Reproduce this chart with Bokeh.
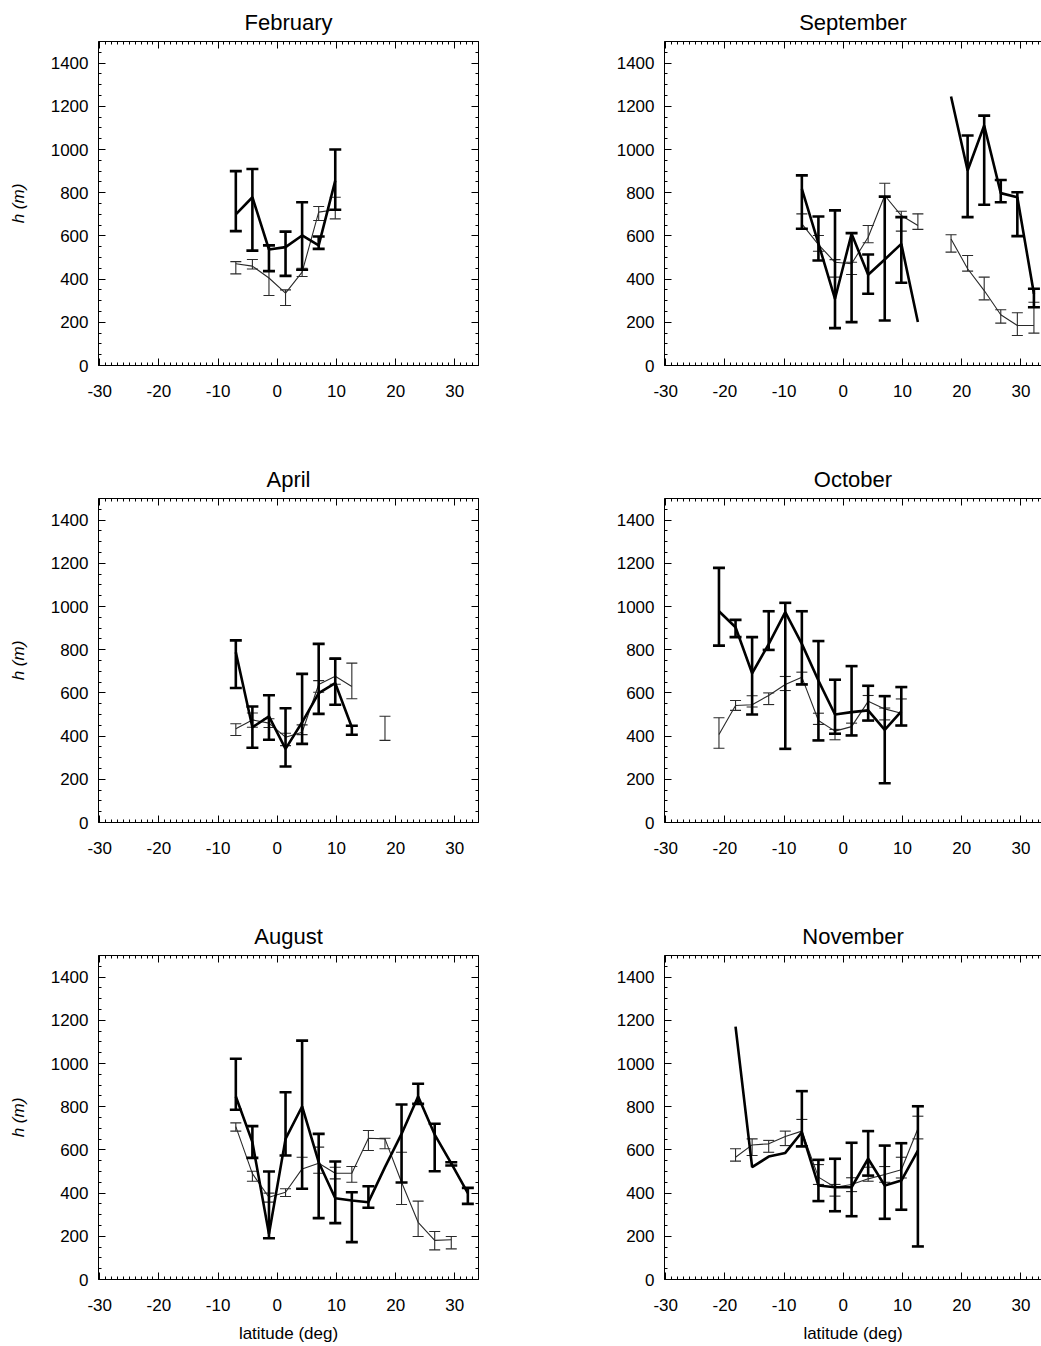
import math
from bokeh.plotting import figure
from bokeh.layouts import column, row
from bokeh.models import Range1d, LinearAxis, FixedTicker
from bokeh.embed import file_html
from bokeh.resources import INLINE

nan = float("nan")

# ---------------- data (latitude in deg, h in m) ----------------
# February
feb_lat_k = [-7.0, -4.2, -1.4, 1.4, 4.2, 7.0, 9.8]
feb_h_k = [700, 779, 537, 548, 602, 556, 856]
feb_lo_k = [622, 532, 437, 415, 443, 540, 721]
feb_hi_k = [900, 910, 556, 620, 756, 597, 1000]
feb_lat_t = [-7.0, -4.2, -1.4, 1.4, 4.2, 7.0, 9.8]
feb_h_t = [471, 460, 405, 335, 432, 710, 721]
feb_lo_t = [424, 447, 324, 278, 412, 671, 679]
feb_hi_t = [481, 491, 440, 350, 450, 736, 779]

# September
sep_lat_k = [-7.0, -4.2, -1.4, 1.4, 4.2, 7.0, 9.8, 12.6, 15.4, 18.2, 21.0, 23.8, 26.6, 29.4, 32.2]
sep_h_k = [818, 565, 309, 610, 420, 491, 563, 201, nan, 1245, 903, 1111, 798, 779, 332]
sep_lo_k = [633, 486, 173, 201, 332, 208, 383, nan, nan, nan, 687, 744, 756, 599, 270]
sep_hi_k = [880, 690, 718, 613, 514, 782, 687, nan, nan, nan, 1065, 1157, 859, 802, 355]
sep_lat_t = [-7.0, -4.2, -1.4, 1.4, 4.2, 7.0, 9.8, 12.6, 15.4, 18.2, 21.0, 23.8, 26.6, 29.4, 32.2]
sep_h_t = [656, 560, 478, 471, 594, 787, 694, 648, nan, 586, 448, 347, 235, 185, 185]
sep_lo_t = [633, 529, 409, 421, 568, 779, 622, 630, nan, 525, 437, 304, 196, 139, 150]
sep_hi_t = [702, 602, 490, 478, 648, 844, 714, 702, nan, 605, 509, 409, 258, 244, 293]

# April
apr_lat_k = [-7.0, -4.2, -1.4, 1.4, 4.2, 7.0, 9.8, 12.6]
apr_h_k = [788, 441, 491, 341, 464, 599, 645, 441]
apr_lo_k = [623, 346, 383, 259, 364, 503, 545, 406]
apr_hi_k = [843, 537, 589, 529, 688, 827, 758, 448]
apr_lat_t = [-7.0, -4.2, -1.4, 1.4, 4.2, 7.0, 9.8, 12.6, 15.4, 18.2]
apr_h_t = [434, 475, 460, 395, 418, 639, 677, 630, nan, 436]
apr_lo_t = [403, 441, 440, 356, 407, 603, 640, 573, nan, 380]
apr_hi_t = [457, 507, 480, 413, 452, 657, 762, 738, nan, 492]

# October
oct_lat_k = [-21.0, -18.2, -15.4, -12.6, -9.8, -7.0, -4.2, -1.4, 1.4, 4.2, 7.0, 9.8]
oct_h_k = [978, 904, 691, 826, 974, 827, 657, 500, 511, 519, 429, 515]
oct_lo_k = [819, 858, 500, 799, 341, 639, 380, 411, 403, 472, 182, 449]
oct_hi_k = [1179, 938, 858, 978, 1017, 978, 840, 661, 724, 633, 585, 627]
oct_lat_t = [-21.0, -18.2, -15.4, -12.6, -9.8, -7.0, -4.2, -1.4, 1.4, 4.2, 7.0, 9.8]
oct_h_t = [407, 542, 545, 588, 639, 673, 472, 423, 444, 561, 526, 506]
oct_lo_t = [344, 519, 535, 546, 611, 642, 454, 383, 403, 472, 475, 449]
oct_hi_t = [485, 565, 587, 600, 676, 696, 506, 431, 460, 588, 530, 572]

# August
aug_lat_k = [-7.0, -4.2, -1.4, 1.4, 4.2, 7.0, 9.8, 12.6, 15.4, 18.2, 21.0, 23.8, 26.6, 29.4, 32.2]
aug_h_k = [847, 636, 211, 651, 801, 543, 376, 366, 358, 520, 674, 847, 671, 538, 400]
aug_lo_k = [786, 563, 191, 574, 420, 284, 261, 173, 332, nan, 449, 813, 501, 528, 350]
aug_hi_k = [1022, 710, 500, 867, 1106, 674, 546, 404, 432, nan, 810, 906, 721, 543, 424]
aug_lat_t = [-7.0, -4.2, -1.4, 1.4, 4.2, 7.0, 9.8, 12.6, 15.4, 18.2, 21.0, 23.8, 26.6, 29.4]
aug_h_t = [708, 490, 381, 404, 512, 538, 492, 492, 654, 651, 450, 265, 181, 184]
aug_lo_t = [687, 455, 358, 384, 420, 492, 466, 450, 597, 605, 347, 199, 137, 142]
aug_hi_t = [725, 501, 400, 420, 566, 613, 520, 523, 690, 654, 589, 363, 222, 199]

# November
nov_lat_k = [-18.2, -15.4, -12.6, -9.8, -7.0, -4.2, -1.4, 1.4, 4.2, 7.0, 9.8, 12.6]
nov_h_k = [1171, 520, 569, 586, 682, 435, 427, 427, 559, 435, 458, 597]
nov_lo_k = [nan, nan, nan, nan, 616, 363, 316, 293, 481, 281, 323, 153]
nov_hi_k = [nan, nan, nan, nan, 872, 554, 559, 633, 687, 620, 631, 802]
nov_lat_t = [-18.2, -15.4, -12.6, -9.8, -7.0, -4.2, -1.4, 1.4, 4.2, 7.0, 9.8, 12.6]
nov_h_t = [566, 623, 628, 662, 687, 474, 427, 440, 466, 486, 508, 698]
nov_lo_t = [548, 574, 589, 620, 620, 440, 386, 407, 455, 450, 470, 651]
nov_hi_t = [605, 651, 644, 687, 741, 532, 440, 471, 520, 523, 566, 756]

x_major = [-30, -20, -10, 0, 10, 20, 30]
x_labels = {-30: "-30", -20: "-20", -10: "-10", 0: "0", 10: "10", 20: "20", 30: "30"}
x_minor = list(range(-30, 35))
y_major = [0, 200, 400, 600, 800, 1000, 1200, 1400]
y_minor = list(range(0, 1501, 50))

FONT = "Liberation Sans"
THIN_COLOR = "#2a2a2a"


def style_axis(ax, show_labels, standoff=0):
    ax.axis_line_color = "black"
    ax.axis_line_width = 1
    ax.major_tick_in = 7
    ax.major_tick_out = 0
    ax.minor_tick_in = 3
    ax.minor_tick_out = 0
    ax.major_tick_line_color = "black"
    ax.minor_tick_line_color = "black"
    if show_labels:
        ax.major_label_text_font = FONT
        ax.major_label_text_font_size = "17px"
        ax.major_label_text_color = "black"
        ax.major_label_standoff = standoff
    else:
        ax.major_label_text_color = None
        ax.major_label_text_alpha = 0
        ax.major_label_text_font_size = "0px"
        ax.major_label_standoff = 0


def add_series(p, lat, h, lo, hi, width, cap, color):
    p.line(lat, h, line_width=width, line_color=color)
    bx = [x for x, a in zip(lat, lo) if not math.isnan(a)]
    blo = [a for a in lo if not math.isnan(a)]
    bhi = [b for b in hi if not math.isnan(b)]
    if bx:
        p.segment(x0=bx, y0=blo, x1=bx, y1=bhi, line_width=width, line_color=color)
        p.scatter(bx, blo, marker="dash", size=cap, line_width=width, line_color=color)
        p.scatter(bx, bhi, marker="dash", size=cap, line_width=width, line_color=color)


def make_panel(title, k, t, left_col, bottom_row):
    if left_col:
        w, bl, br, xend = 576, 98, 98, 34.0
    else:
        w, bl, br, xend = 465, 88, 0, 33.48
    h = 432 if bottom_row else 457
    bb = 67 if bottom_row else 92
    p = figure(width=w, height=h, output_backend="svg", toolbar_location=None,
               x_range=Range1d(-30.2, xend), y_range=Range1d(0, 1500),
               min_border_left=bl, min_border_right=br,
               min_border_top=41, min_border_bottom=bb,
               title=title)
    p.title.text_font = FONT
    p.title.text_font_size = "22px"
    p.title.text_font_style = "normal"
    p.title.text_color = "black"
    p.title.align = "center"
    p.title.standoff = 14
    p.outline_line_color = None
    p.grid.visible = False
    p.background_fill_color = "white"
    p.border_fill_color = "white"

    p.xaxis.ticker = FixedTicker(ticks=x_major, minor_ticks=x_minor)
    p.yaxis.ticker = FixedTicker(ticks=y_major, minor_ticks=y_minor)
    p.xaxis.major_label_overrides = x_labels
    style_axis(p.xaxis[0], True, 19)
    style_axis(p.yaxis[0], True, 10)

    if left_col:
        p.yaxis.axis_label = "h (m)"
        p.yaxis.axis_label_text_font = FONT
        p.yaxis.axis_label_text_font_size = "17px"
        p.yaxis.axis_label_text_font_style = "italic"
        p.yaxis.axis_label_text_color = "black"
        p.yaxis.axis_label_standoff = 20

    if bottom_row:
        p.xaxis.axis_label = "latitude (deg)"
        p.xaxis.axis_label_text_font = FONT
        p.xaxis.axis_label_text_font_size = "17px"
        p.xaxis.axis_label_text_font_style = "normal"
        p.xaxis.axis_label_text_color = "black"
        p.xaxis.axis_label_standoff = 10

    top = LinearAxis(ticker=FixedTicker(ticks=x_major, minor_ticks=x_minor))
    style_axis(top, False)
    p.add_layout(top, "above")
    if left_col:
        right = LinearAxis(ticker=FixedTicker(ticks=y_major, minor_ticks=y_minor))
        style_axis(right, False)
        p.add_layout(right, "right")

    add_series(p, *t, 1.1, 11, THIN_COLOR)
    add_series(p, *k, 2.6, 12, "black")
    return p


p1 = make_panel("February", (feb_lat_k, feb_h_k, feb_lo_k, feb_hi_k),
                (feb_lat_t, feb_h_t, feb_lo_t, feb_hi_t), True, False)
p2 = make_panel("September", (sep_lat_k, sep_h_k, sep_lo_k, sep_hi_k),
                (sep_lat_t, sep_h_t, sep_lo_t, sep_hi_t), False, False)
p3 = make_panel("April", (apr_lat_k, apr_h_k, apr_lo_k, apr_hi_k),
                (apr_lat_t, apr_h_t, apr_lo_t, apr_hi_t), True, False)
p4 = make_panel("October", (oct_lat_k, oct_h_k, oct_lo_k, oct_hi_k),
                (oct_lat_t, oct_h_t, oct_lo_t, oct_hi_t), False, False)
p5 = make_panel("August", (aug_lat_k, aug_h_k, aug_lo_k, aug_hi_k),
                (aug_lat_t, aug_h_t, aug_lo_t, aug_hi_t), True, True)
p6 = make_panel("November", (nov_lat_k, nov_h_k, nov_lo_k, nov_hi_k),
                (nov_lat_t, nov_h_t, nov_lo_t, nov_hi_t), False, True)

layout = column(row(p1, p2), row(p3, p4), row(p5, p6))
open("out.html", "w").write(file_html(layout, INLINE))
